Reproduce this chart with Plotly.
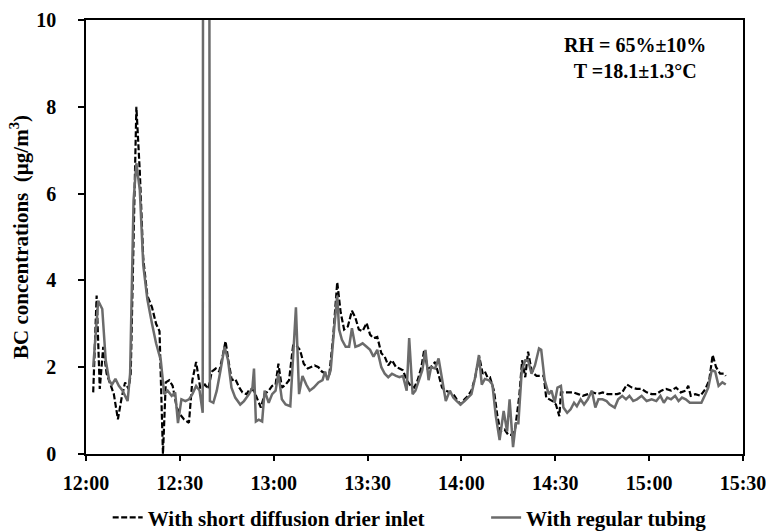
import pandas as pd
import plotly.graph_objects as go

# minutes after 12:00 and BC concentrations (µg/m³)
drier_min = [2.3, 3.4, 4.4, 5.5, 6.6, 7.8, 8.9, 10.2, 11.4, 12.5, 13.6, 14.3, 16.1, 17.2, 18.3, 19.6,
             21.1, 22.4, 23.5, 24.6, 25.5, 26.6, 27.7, 29.0, 30.2, 31.3, 32.9, 34.0, 35.2, 36.5,
             38.0, 39.1, 40.2, 41.5, 42.6, 43.8, 44.6, 45.5, 46.6, 47.7, 49.0, 50.0, 51.3, 52.4,
             53.7, 54.8, 55.9, 57.1, 58.4, 59.5, 60.6, 61.5, 62.6, 63.8, 64.9, 66.2, 67.3, 68.4,
             69.6, 70.9, 72.0, 73.1, 74.3, 75.4, 76.7, 77.8, 79.0, 80.3, 81.4, 82.5, 83.7, 85.0,
             86.1, 87.2, 88.4, 89.7, 90.8, 91.9, 93.1, 94.4, 95.5, 96.6, 97.8, 99.1, 100.2, 101.3,
             102.5, 103.8, 104.9, 106.0, 107.2, 108.1, 109.2, 110.3, 111.6, 112.7, 113.8, 115.0,
             116.3, 117.4, 118.5, 119.7, 121.0, 122.1, 123.2, 124.4, 125.7, 126.8, 127.5, 128.3,
             129.1, 130.4, 131.5, 132.5, 133.8, 135.0, 136.2, 137.2, 138.5, 139.4, 140.4, 141.3,
             142.4, 143.2, 144.0, 145.1, 146.3, 147.1, 148.2, 149.1, 150.2, 151.3, 151.8, 152.9,
             154.1, 155.7, 157.3, 158.8, 160.4, 162.0, 163.5, 165.1, 166.7, 168.2, 169.8, 171.4,
             172.9, 174.5, 176.1, 177.6, 179.2, 180.8, 182.3, 183.9, 185.4, 187.0, 188.6, 190.1,
             191.7, 192.5, 193.3, 194.8, 196.4, 198.0, 199.2, 200.3, 201.4, 202.7, 203.9, 204.5]
drier_bc = [1.42, 3.65, 1.50, 2.47, 1.85, 1.60, 1.38, 0.80, 1.30, 1.65, 1.50, 1.85, 8.00, 6.50, 4.50, 3.65,
            3.38, 3.00, 2.83, 0.00, 1.65, 1.70, 1.57, 1.07, 0.90, 0.80, 0.72, 1.70, 2.12, 1.53,
            1.60, 1.50, 1.90, 1.97, 1.90, 2.30, 2.60, 2.16, 1.70, 1.73, 1.53, 1.42, 1.38, 1.50,
            1.46, 1.26, 1.07, 1.38, 1.46, 1.57, 1.60, 2.08, 1.53, 1.60, 1.70, 2.50, 2.50, 2.40,
            2.08, 1.97, 2.00, 2.04, 2.00, 1.90, 1.85, 1.85, 2.70, 3.96, 3.26, 2.87, 2.94, 3.30,
            3.14, 2.87, 2.83, 3.02, 2.75, 2.67, 2.70, 2.32, 2.24, 2.04, 2.16, 2.00, 1.97, 1.93,
            1.70, 1.57, 1.53, 1.70, 2.00, 2.40, 1.97, 2.00, 2.12, 1.85, 1.53, 1.46,
            1.42, 1.38, 1.26, 1.14, 1.26, 1.34, 1.46, 1.77, 2.24, 1.85, 1.90, 1.77,
            1.77, 1.46, 0.87, 0.52, 0.56, 0.44, 0.44, 0.60, 1.34, 2.16, 1.77, 2.36,
            1.93, 1.85, 1.80, 1.80, 1.80, 1.30, 1.26, 1.22, 1.14, 0.87, 1.42, 1.42,
            1.42, 1.42, 1.38, 1.34, 1.38, 1.42, 1.38, 1.42, 1.38, 1.38, 1.38, 1.42,
            1.60, 1.53, 1.50, 1.50, 1.42, 1.38, 1.38, 1.46, 1.50, 1.46, 1.53, 1.42,
            1.46, 1.57, 1.34, 1.38, 1.34, 1.50, 1.70, 2.28, 2.00, 1.85, 1.85, 1.80]

tubing_min = [2.3, 3.9, 5.2, 6.3, 7.4, 8.3, 9.4, 10.5, 11.7, 13.3, 14.1, 15.2, 16.1, 17.2, 18.3, 19.6,
              21.1, 22.4, 23.9, 25.0, 26.1, 27.4, 28.5, 29.4, 30.5, 31.8, 32.9, 34.0, 35.2, 36.3,
              37.3, 37.6, 39.1, 39.6, 40.7, 41.8, 43.0, 44.3, 45.4, 46.5, 47.7, 49.3, 50.5, 52.1,
              53.2, 53.7, 54.3, 55.2, 56.3, 57.1, 58.4, 59.5, 60.6, 61.5, 62.6, 63.8, 65.3, 66.2,
              67.1, 68.1, 69.2, 70.4, 71.5, 72.8, 74.3, 75.6, 76.4, 77.2, 78.2, 79.3, 80.3, 80.9,
              81.8, 83.0, 84.1, 85.0, 86.1, 87.2, 88.4, 89.7, 90.8, 91.9, 93.1, 94.4, 95.5, 96.6,
              97.8, 99.1, 100.2, 101.3, 102.5, 103.3, 104.4, 105.3, 106.4, 107.5, 108.5, 109.5,
              110.3, 111.6, 112.7, 113.8, 115.0, 116.3, 117.4, 118.5, 119.7, 121.0, 122.1, 123.2,
              124.4, 125.6, 126.5, 127.5, 128.8, 129.9, 131.0, 132.2, 133.5, 134.6, 135.4, 136.5,
              137.4, 138.2, 139.3, 140.4, 141.3, 142.4, 143.5, 144.8, 145.5, 146.6, 147.9, 148.8,
              149.8, 150.7, 151.8, 152.6, 153.8, 154.9, 156.0, 156.9, 158.1, 159.2, 160.4, 161.7,
              162.8, 163.8, 165.1, 166.4, 167.4, 169.0, 170.1, 171.4, 172.6, 173.7, 174.9, 176.1,
              177.6, 179.2, 180.8, 182.3, 183.6, 184.7, 185.8, 187.0, 188.3, 189.4, 190.5, 191.7,
              193.0, 194.8, 196.7, 198.0, 198.9, 200.0, 201.1, 202.2, 203.4, 204.5]
tubing_bc = [2.00, 3.53, 3.34, 2.16, 1.70, 1.60, 1.73, 1.57, 1.46, 1.22, 1.85, 5.84, 6.70, 6.08, 4.35, 3.57,
             3.00, 2.55, 2.16, 1.38, 1.46, 1.34, 1.42, 0.71, 1.26, 1.22, 1.26, 1.38, 1.57, 1.46,
             0.95, 30.0, 30.0, 1.22, 1.18, 1.46, 1.93, 2.47, 2.16, 1.53, 1.30, 1.14, 1.22, 1.38,
             1.53, 1.97, 0.75, 0.79, 0.75, 1.46, 1.18, 1.38, 1.46, 1.85, 1.26, 1.14, 1.10, 2.16,
             3.38, 1.38, 1.80, 1.60, 1.46, 1.53, 1.65, 1.70, 1.90, 1.70, 1.93, 2.87, 3.65, 2.87,
             2.63, 2.47, 2.47, 2.90, 2.47, 2.50, 2.55, 2.47, 2.40, 2.24, 2.40, 2.00, 1.85, 1.77,
             1.85, 1.80, 1.77, 1.80, 1.46, 2.67, 1.38, 1.46, 1.70, 1.93, 2.40, 1.70,
             2.00, 1.97, 2.20, 1.70, 1.22, 1.46, 1.30, 1.22, 1.14, 1.22, 1.30, 1.38,
             1.77, 2.28, 1.60, 1.73, 1.70, 1.60, 0.87, 0.32, 0.99, 0.52, 1.26, 0.16,
             0.71, 0.71, 1.93, 2.16, 2.16, 1.85, 2.04, 2.43, 2.40, 1.70, 1.38, 1.46,
             1.18, 1.53, 1.57, 1.07, 0.95, 1.03, 1.18, 1.10, 1.26, 1.14, 1.26, 1.46,
             1.07, 1.26, 1.26, 1.22, 1.14, 1.07, 1.26, 1.34, 1.26, 1.34, 1.22, 1.26,
             1.34, 1.22, 1.26, 1.22, 1.34, 1.18, 1.30, 1.26, 1.34, 1.22, 1.30, 1.26,
             1.18, 1.18, 1.18, 1.38, 1.53, 1.93, 1.90, 1.57, 1.65, 1.60]

x_ticks = ["12:00", "12:30", "13:00", "13:30", "14:00", "14:30", "15:00", "15:30"]
y_ticks = [0, 2, 4, 6, 8, 10]

base = pd.Timestamp("2010-01-01 12:00:00")
def to_time(mins):
    return base + pd.to_timedelta(mins, unit="m")

FONT = "Liberation Serif"

fig = go.Figure()
fig.add_trace(go.Scatter(
    x=to_time(drier_min), y=drier_bc, mode="lines",
    name="<b>With short diffusion drier inlet</b>",
    line=dict(color="black", width=2.2, dash="6px,2.5px"),
    showlegend=True, legend="legend"))
fig.add_trace(go.Scatter(
    x=to_time(tubing_min), y=tubing_bc, mode="lines",
    name="<b>With regular tubing</b>",
    line=dict(color="#6b6b6b", width=2.5),
    showlegend=True, legend="legend2"))

tickvals = [base + pd.Timedelta(hours=int(t[:2]) - 12, minutes=int(t[3:])) for t in x_ticks]

fig.update_layout(
    width=766, height=531,
    showlegend=True,
    margin=dict(l=86, r=23, t=20, b=77, autoexpand=False),
    paper_bgcolor="white", plot_bgcolor="white",
    font=dict(family=FONT, size=20, color="black"),
    legend=dict(x=0.033, y=-0.147, xanchor="left", yanchor="middle",
                orientation="h", bgcolor="rgba(0,0,0,0)", visible=True,
                font=dict(family=FONT, size=21, color="black")),
    legend2=dict(x=0.609, y=-0.147, xanchor="left", yanchor="middle",
                 orientation="h", bgcolor="rgba(0,0,0,0)", visible=True,
                 font=dict(family=FONT, size=21, color="black")),
    xaxis=dict(
        type="date",
        range=[tickvals[0], tickvals[-1]],
        tickvals=tickvals, ticktext=["<b>%s</b>" % t for t in x_ticks],
        ticks="outside", ticklen=5, tickwidth=1.5, tickcolor="black",
        showline=True, linecolor="black", linewidth=1.5, mirror=True,
        showgrid=False, zeroline=False, automargin=False,
        ticklabelstandoff=5, ticklabeloverflow="allow",
        tickfont=dict(family=FONT, size=20, color="black"),
    ),
    yaxis=dict(
        range=[0, 10],
        tickvals=y_ticks, ticktext=["<b>%d</b>" % v for v in y_ticks],
        ticks="outside", ticklen=6, tickwidth=1.5, tickcolor="black",
        showline=True, linecolor="black", linewidth=1.5, mirror=True,
        showgrid=False, zeroline=False, automargin=False,
        ticklabelstandoff=18, ticklabeloverflow="allow",
        tickfont=dict(family=FONT, size=20, color="black"),
        title=dict(text="<b>BC concentrations  (µg/m<sup>3</sup>)</b>",
                   font=dict(family=FONT, size=21, color="black"), standoff=2),
    ),
    annotations=[dict(
        text="<b>RH = 65%±10%<br>T =18.1±1.3°C</b>",
        x=0.836, y=0.912, xref="paper", yref="paper",
        xanchor="center", yanchor="middle", showarrow=False, align="center",
        font=dict(family=FONT, size=20, color="black"))],
)

fig.write_html("out.html")
